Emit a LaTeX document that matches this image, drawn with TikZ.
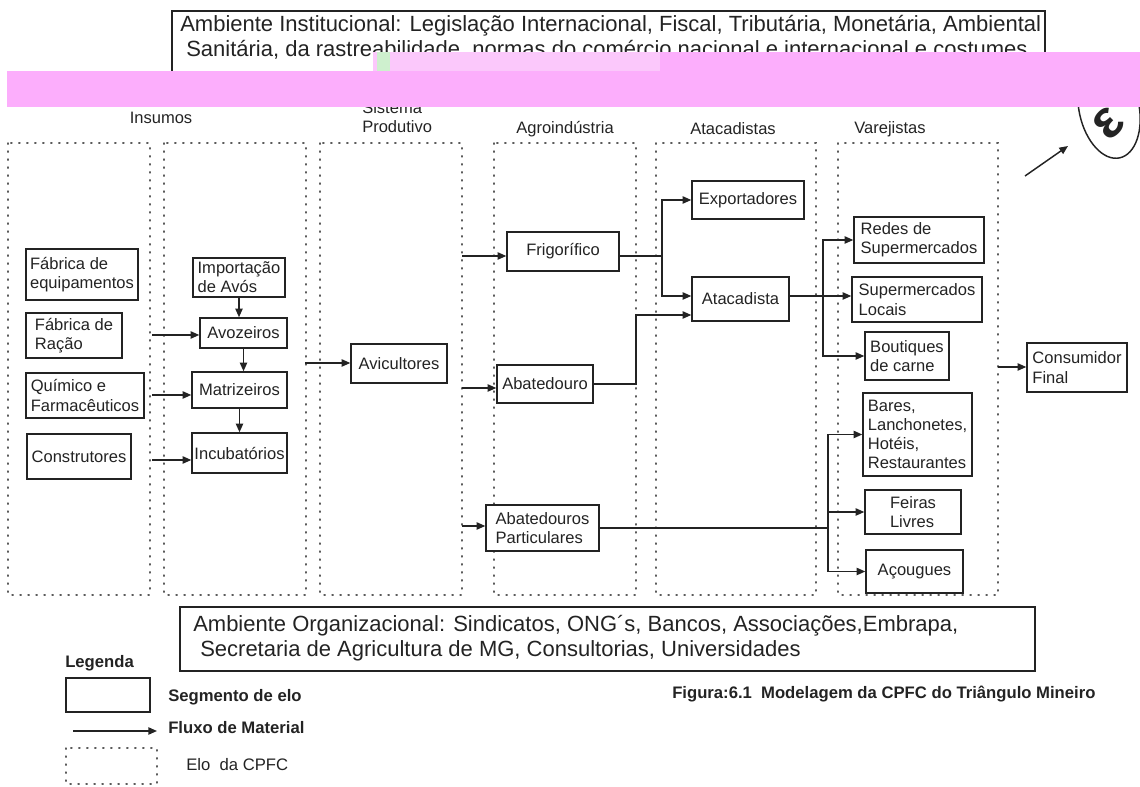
\documentclass[tikz,border=0pt]{standalone}
\usepackage{fontspec}
\setmainfont{Liberation Sans}
\usetikzlibrary{arrows.meta}
\definecolor{ink}{RGB}{35,35,35}
\definecolor{band}{RGB}{252,174,252}
\definecolor{bandlight}{RGB}{251,200,251}
\definecolor{patch}{RGB}{206,240,206}
\newcommand{\bigtxt}{\fontsize{16.5}{18.75}\selectfont}
% segment box: name, x1, y1, x2, y2, text (pixel units)
\newcommand{\segnode}[6]{\node[segbox, minimum width={(#4-#2)*0.75pt}, minimum height={(#5-#3)*0.75pt}] (#1) at ({(#2+#4)/2},{(#3+#5)/2}) {#6};}
\begin{document}
\begin{tikzpicture}[x=0.75pt,y=-0.75pt,
  segbox/.style={draw=ink, line width=1.1pt, fill=white, text=ink, font=\fontsize{12.4}{14.4}\selectfont, align=left, inner sep=0pt},
  elo/.style={draw=ink!75, line width=1pt, dash pattern=on 0.9pt off 5.1pt, line cap=round},
  flow/.style={draw=ink, line width=1.1pt, -{Triangle[length=6.5pt,width=5.5pt]}},
  link/.style={draw=ink, line width=1.1pt},
  head/.style={text=ink, font=\fontsize{12.4}{14.6}\selectfont, inner sep=0pt},
  legtxt/.style={text=ink, font=\fontsize{12.5}{14}\selectfont\bfseries, anchor=west, inner sep=0pt},
]
\useasboundingbox (0,0) rectangle (1140,787);

% institutional environment (top)
\draw[ink, line width=1.1pt] (172,11) rectangle (1045,95);
\node[text=ink, font=\bigtxt, anchor=west, inner sep=0pt] (inst1) at (180,26) {Ambiente Institucional: Legislação Internacional, Fiscal, Tributária, Monetária, Ambiental};
\node[text=ink, font=\bigtxt, anchor=west, inner sep=0pt] (inst2) at (186,50) {Sanitária, da rastreabilidade, normas do comércio nacional e internacional e costumes};

% consumer symbol
\draw[ink, line width=1.1pt, rotate around={12:(1109,108)}] (1109,108) ellipse [x radius=30, y radius=51];
\node[text=ink, font=\fontsize{40}{40}\selectfont\bfseries, rotate=45, inner sep=0pt] (eps) at (1108,124) {ε};
\coordinate (q0) at (1025,176);
\coordinate (q1) at (1068,146);
\draw[flow] (q0) -- (q1);

% headings
\node[head] (hIns) at (161,118) {Insumos};
\node[head, anchor=west, align=left] (hSis) at (362,117) {Sistema\\Produtivo};
\node[head] (hAgr) at (565,129) {Agroindústria};
\node[head] (hAta) at (733,129) {Atacadistas};
\node[head] (hVar) at (890,129) {Varejistas};

% overprinted band
\fill[band] (7,71) rectangle (1140,107);
\fill[band] (660,52) rectangle (1140,71);
\fill[bandlight] (373,52) rectangle (660,71);
\fill[patch] (377,52) rectangle (390,71);

% chain links (dotted)
\draw[elo] (8,143) rectangle (150,595);
\draw[elo] (164,143) rectangle (306,595);
\draw[elo] (320,143) rectangle (462,595);
\draw[elo] (494,143) rectangle (636,595);
\draw[elo] (656,143) rectangle (816,595);
\draw[elo] (838,143) rectangle (998,595);

% segments
\segnode{equip}{26}{249}{138}{300}{Fábrica de\\equipamentos}
\segnode{racao}{26}{313}{122}{358}{Fábrica de\\Ração}
\segnode{quim}{26}{373}{144}{418}{Químico e\\Farmacêuticos}
\segnode{constr}{27}{434}{131}{479}{Construtores}
\segnode{import}{193}{258}{285}{297}{Importação\\de Avós}
\segnode{avoz}{200}{318}{287}{348}{Avozeiros}
\segnode{matriz}{192}{372}{287}{408}{Matrizeiros}
\segnode{incub}{192}{433}{287}{473}{Incubatórios}
\segnode{avic}{351}{344}{447}{383}{Avicultores}
\segnode{frigo}{507}{232}{619}{271}{Frigorífico}
\segnode{abat}{497}{365}{593}{403}{Abatedouro}
\segnode{abpart}{486}{505}{599}{551}{Abatedouros\\Particulares}
\segnode{export}{692}{181}{804}{219}{Exportadores}
\segnode{atac}{692}{277}{789}{321}{Atacadista}
\segnode{redes}{854}{217}{984}{263}{Redes de\\Supermercados}
\segnode{superloc}{852}{277}{982}{322}{Supermercados\\Locais}
\segnode{bout}{865}{332}{949}{380}{Boutiques\\de carne}
\segnode{bares}{863}{393}{972}{476}{Bares,\\Lanchonetes,\\Hotéis,\\Restaurantes}
\segnode{feiras}{865}{490}{961}{534}{Feiras\\Livres}
\segnode{acoug}{866}{550}{963}{593}{Açougues}
\segnode{consum}{1027}{343}{1127}{392}{Consumidor\\Final}

% flow starts on link borders
\coordinate (s1) at (152,335);
\coordinate (s2) at (152,395);
\coordinate (s3) at (152,460);
\coordinate (s4) at (305,363);
\coordinate (s5) at (462,256);
\coordinate (s6) at (462,388);
\coordinate (s7) at (462,526);
\coordinate (s8) at (998,367);
% junctions
\coordinate (jf) at (662,256);
\coordinate (ja) at (636,315);
\coordinate (jt) at (823,296);
\coordinate (jp) at (828,528);

\draw[flow] (s1) -- (avoz.west |- s1);
\draw[flow] (s2) -- (matriz.west |- s2);
\draw[flow] (s3) -- (incub.west |- s3);
\draw[flow] (import.south) -- (import.south |- avoz.north);
\draw[flow] (avoz.south) -- (avoz.south |- matriz.north);
\draw[flow] (matriz.south) -- (matriz.south |- incub.north);
\draw[flow] (s4) -- (avic.west |- s4);
\draw[flow] (s5) -- (frigo.west |- s5);
\draw[flow] (s6) -- (abat.west |- s6);
\draw[flow] (s7) -- (abpart.west |- s7);

\draw[link] (frigo.east |- jf) -- (jf);
\draw[flow] (jf) |- (export);
\draw[flow] (jf) |- (atac.west |- jt);
\draw[flow] (abat.east) -| (ja) -- (atac.west |- ja);

\draw[flow] (atac.east |- jt) -- (superloc.west |- jt);
\draw[flow] (jt) |- (redes);
\draw[flow] (jt) |- (bout);

\draw[link] (abpart.east |- jp) -- (jp);
\draw[flow] (jp) |- (bares);
\draw[flow] (jp) |- (feiras);
\draw[flow] (jp) |- (acoug);

\draw[flow] (s8) -- (consum.west |- s8);

% organizational environment (bottom)
\draw[ink, line width=1.1pt] (180,607) rectangle (1035,671);
\node[text=ink, font=\bigtxt, anchor=west, inner sep=0pt] (org1) at (193,626) {Ambiente Organizacional: Sindicatos, ONG´s, Bancos, Associações,Embrapa,};
\node[text=ink, font=\bigtxt, anchor=west, inner sep=0pt] (org2) at (200,651) {Secretaria de Agricultura de MG, Consultorias, Universidades};

% legend
\node[legtxt] (leg) at (65,663) {Legenda};
\draw[ink, line width=1.1pt] (66,678) rectangle (150,712);
\node[legtxt] (legseg) at (168,697) {Segmento de elo};
\coordinate (l0) at (73,731);
\coordinate (l1) at (157,731);
\draw[flow] (l0) -- (l1);
\node[legtxt] (legflu) at (168,728) {Fluxo de Material};
\draw[elo] (66,748) rectangle (157,784);
\node[legtxt, font=\fontsize{12.5}{14}\selectfont] (legelo) at (186,765) {Elo\ \ da CPFC};

% caption
\node[legtxt] (fig) at (672,694) {Figura:6.1\ \ Modelagem da CPFC do Triângulo Mineiro};
\end{tikzpicture}
\end{document}
